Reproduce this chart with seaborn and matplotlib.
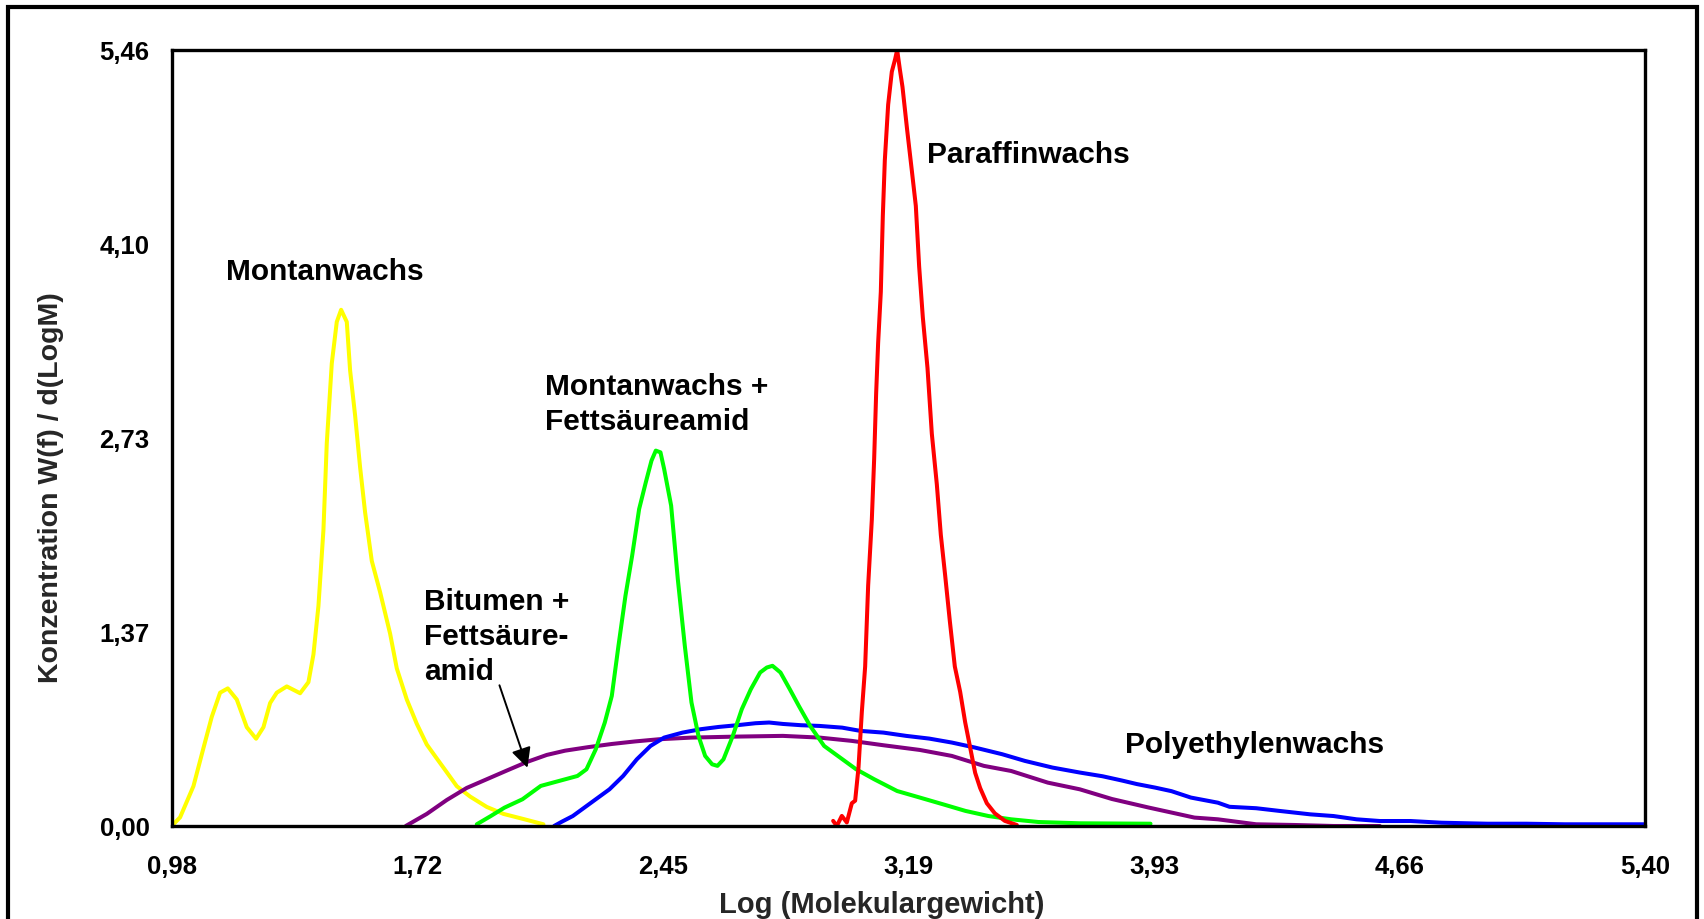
import matplotlib
matplotlib.use("Agg")
import matplotlib.pyplot as plt
from matplotlib.patches import Rectangle
import numpy as np
import pandas as pd
import seaborn as sns

# --- GPC molecular weight distributions: log(M) vs. W(f)/d(logM) ---
montan_x = [0.98, 1.005, 1.045, 1.075, 1.100, 1.125, 1.148, 1.175, 1.205, 1.233, 1.255,
            1.275, 1.295, 1.325, 1.365, 1.390, 1.405, 1.420, 1.435, 1.445, 1.460, 1.475,
            1.488, 1.505, 1.515, 1.530, 1.545, 1.560, 1.580, 1.605, 1.635, 1.655, 1.685,
            1.715, 1.745, 1.775, 1.805, 1.835, 1.875, 1.925, 1.975, 2.035, 2.095]
montan_y = [0.0, 0.061, 0.28, 0.548, 0.768, 0.938, 0.968, 0.890, 0.695, 0.614, 0.695,
            0.865, 0.938, 0.982, 0.934, 1.012, 1.207, 1.548, 2.084, 2.693, 3.254, 3.547,
            3.632, 3.547, 3.205, 2.888, 2.523, 2.206, 1.865, 1.645, 1.353, 1.109, 0.890,
            0.719, 0.573, 0.475, 0.378, 0.280, 0.207, 0.134, 0.085, 0.049, 0.012]

bitumen_x = [1.682, 1.745, 1.805, 1.865, 1.925, 1.985, 2.045, 2.105, 2.160, 2.230, 2.300,
             2.370, 2.440, 2.539, 2.676, 2.813, 2.923, 3.019, 3.115, 3.224, 3.320, 3.416,
             3.498, 3.608, 3.704, 3.800, 3.910, 4.048, 4.118, 4.233, 4.349, 4.465, 4.604]
bitumen_y = [0.0, 0.085, 0.183, 0.268, 0.329, 0.390, 0.450, 0.500, 0.530, 0.555, 0.577,
             0.595, 0.610, 0.622, 0.629, 0.634, 0.622, 0.599, 0.568, 0.535, 0.493, 0.423,
             0.387, 0.305, 0.258, 0.190, 0.130, 0.059, 0.047, 0.012, 0.007, 0.0, 0.0]

pe_x = [2.127, 2.150, 2.183, 2.238, 2.293, 2.334, 2.375, 2.416, 2.457, 2.512, 2.567, 2.621,
        2.676, 2.731, 2.772, 2.813, 2.868, 2.923, 2.991, 3.046, 3.115, 3.183, 3.252, 3.320,
        3.389, 3.471, 3.539, 3.622, 3.704, 3.772, 3.830, 3.875, 3.930, 3.979, 4.037, 4.118,
        4.153, 4.233, 4.303, 4.395, 4.465, 4.534, 4.604, 4.696, 4.789, 4.927, 5.043, 5.159,
        5.274, 5.400]
pe_y = [0.0, 0.030, 0.070, 0.164, 0.258, 0.352, 0.469, 0.563, 0.622, 0.657, 0.681, 0.697,
        0.709, 0.723, 0.728, 0.718, 0.709, 0.704, 0.692, 0.669, 0.657, 0.634, 0.615, 0.587,
        0.552, 0.505, 0.458, 0.411, 0.376, 0.350, 0.320, 0.295, 0.270, 0.245, 0.200, 0.164,
        0.135, 0.125, 0.106, 0.082, 0.070, 0.047, 0.035, 0.035, 0.023, 0.016, 0.016, 0.012,
        0.012, 0.012]

mfa_x = [1.895, 1.937, 1.978, 2.032, 2.087, 2.142, 2.197, 2.224, 2.252, 2.279, 2.300, 2.320,
         2.341, 2.361, 2.382, 2.402, 2.419, 2.432, 2.446, 2.457, 2.478, 2.498, 2.519, 2.539,
         2.560, 2.580, 2.601, 2.617, 2.635, 2.663, 2.690, 2.717, 2.745, 2.765, 2.782, 2.806,
         2.834, 2.861, 2.895, 2.937, 2.978, 3.033, 3.087, 3.156, 3.224, 3.293, 3.361, 3.430,
         3.498, 3.580, 3.704, 3.916]
mfa_y = [0.012, 0.070, 0.129, 0.188, 0.282, 0.317, 0.352, 0.399, 0.540, 0.728, 0.915, 1.268,
         1.620, 1.901, 2.230, 2.418, 2.570, 2.641, 2.629, 2.512, 2.254, 1.737, 1.268, 0.869,
         0.634, 0.493, 0.434, 0.423, 0.469, 0.634, 0.822, 0.962, 1.080, 1.115, 1.127, 1.080,
         0.962, 0.845, 0.704, 0.563, 0.493, 0.399, 0.329, 0.246, 0.200, 0.153, 0.106, 0.070,
         0.047, 0.028, 0.019, 0.016]

paraffin_x = [2.964, 2.975, 2.990, 3.005, 3.020, 3.030, 3.040, 3.050, 3.060, 3.069, 3.080,
              3.087, 3.093, 3.099, 3.107, 3.113, 3.119, 3.129, 3.140, 3.150, 3.156, 3.164,
              3.172, 3.186, 3.200, 3.212, 3.222, 3.233, 3.247, 3.260, 3.275, 3.287, 3.300,
              3.314, 3.329, 3.345, 3.360, 3.375, 3.390, 3.405, 3.425, 3.449, 3.479, 3.515]
paraffin_y = [0.036, 0.0, 0.071, 0.025, 0.160, 0.178, 0.410, 0.801, 1.122, 1.692, 2.155,
              2.582, 3.045, 3.401, 3.758, 4.292, 4.684, 5.075, 5.307, 5.396, 5.460, 5.325,
              5.200, 4.897, 4.612, 4.363, 3.936, 3.579, 3.223, 2.760, 2.404, 2.048, 1.763,
              1.442, 1.122, 0.944, 0.730, 0.552, 0.374, 0.267, 0.160, 0.089, 0.036, 0.007]

series_names = ["Montanwachs", "Bitumen + Fettsäureamid", "Polyethylenwachs",
                "Montanwachs + Fettsäureamid", "Paraffinwachs"]
series_colors = ["#FFFF00", "#800080", "#0000FF", "#00FF00", "#FF0000"]

x_ticks = [0.98, 1.7167, 2.4533, 3.19, 3.9267, 4.6633, 5.40]
x_tick_labels = ["0,98", "1,72", "2,45", "3,19", "3,93", "4,66", "5,40"]
y_ticks = [0.0, 1.365, 2.73, 4.095, 5.46]
y_tick_labels = ["0,00", "1,37", "2,73", "4,10", "5,46"]

# --- long-form table for seaborn ---
frames = []
for name, xs, ys in zip(series_names,
                        [montan_x, bitumen_x, pe_x, mfa_x, paraffin_x],
                        [montan_y, bitumen_y, pe_y, mfa_y, paraffin_y]):
    frames.append(pd.DataFrame({"logM": xs, "w": ys, "Probe": name}))
df = pd.concat(frames, ignore_index=True)

sns.set_style("white")
plt.rcParams["font.family"] = ["Liberation Sans", "DejaVu Sans"]
plt.rcParams["font.weight"] = "bold"

fig = plt.figure(figsize=(17.04, 9.20), dpi=100)
ax = fig.add_axes([0.1008, 0.1011, 0.8647, 0.8435])

sns.lineplot(data=df, x="logM", y="w", hue="Probe", hue_order=series_names,
             palette=dict(zip(series_names, series_colors)), estimator=None,
             sort=False, linewidth=2.9, legend=False, ax=ax)

ax.set_xlim(0.98, 5.40)
ax.set_ylim(0.0, 5.46)
ax.set_xticks(x_ticks)
ax.set_xticklabels(x_tick_labels)
ax.set_yticks(y_ticks)
ax.set_yticklabels(y_tick_labels)

for side in ["left", "right", "top", "bottom"]:
    ax.spines[side].set_visible(True)
    ax.spines[side].set_color("black")
    ax.spines[side].set_linewidth(2.4)

ax.tick_params(axis="both", which="major", direction="out", length=12, width=2.4,
               color="black", labelsize=18.5, labelcolor="black")
ax.tick_params(axis="x", pad=8)
ax.tick_params(axis="y", pad=4)
for lab in ax.get_xticklabels() + ax.get_yticklabels():
    lab.set_fontweight("bold")

ax.set_xlabel("Log (Molekulargewicht)", fontsize=21, fontweight="bold")
ax.xaxis.set_label_coords(0.482, -0.083)
ax.set_ylabel("Konzentration W(f) / d(LogM)", fontsize=20.5, fontweight="bold")
ax.yaxis.set_label_coords(-0.073, 0.4375)

# --- curve labels ---
txt = dict(fontsize=21.5, fontweight="bold", color="black", va="top", ha="left")
ax.text(1.143, 4.00, "Montanwachs", **txt)
ax.text(3.245, 4.826, "Paraffinwachs", **txt)
ax.text(2.101, 3.197, "Montanwachs +\nFettsäureamid", linespacing=1.33, **txt)
ax.text(1.736, 1.683, "Bitumen +\nFettsäure-\namid", linespacing=1.33, **txt)
ax.text(3.838, 0.673, "Polyethylenwachs", **txt)

ax.annotate("", xy=(2.047, 0.41), xytext=(1.963, 0.99),
            arrowprops=dict(arrowstyle="-|>", color="black", lw=1.4,
                            mutation_scale=30, shrinkA=0, shrinkB=0))

# --- outer frame around the figure ---
fig.patches.append(Rectangle((8 / 1704, -0.05), (1697 - 8) / 1704, (920 - 8) / 920 + 0.05,
                             transform=fig.transFigure, fill=False, edgecolor="black",
                             linewidth=3.0, clip_on=False))

fig.savefig("out.png", dpi=100, facecolor="white")
